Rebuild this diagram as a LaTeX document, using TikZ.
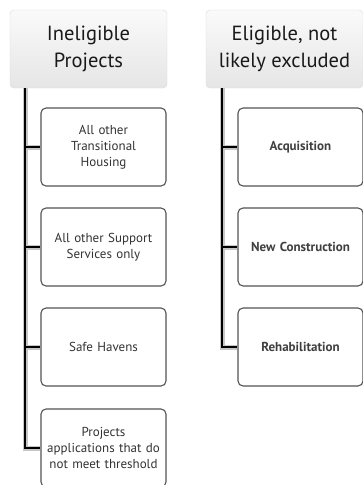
\documentclass[tikz,border=0pt]{standalone}
\usepackage{fontspec}
\setmainfont{PT Sans}
\usepackage{xcolor}
\usepackage{tikz}
\usetikzlibrary {positioning}
\usetikzlibrary{arrows}
\tikzset{trunk/.style = {line width=2.8pt, black},
         trunk shade/.style = {line width=5pt, gray!45}}

\begin{document}
\begin{tikzpicture}[x=1pt,y=-1pt,node distance=100pt,thick,
    head node/.style={rectangle,rounded corners=4pt,draw=gray!30,thin,top color=gray!4,bottom color=gray!20,minimum width=157pt,minimum height=78pt,align=center,font=\fontsize{20.5}{27}\selectfont,text=black!90,inner sep=1pt},
    item node/.style={rectangle,rounded corners=5pt,draw=gray!65!black,line width=1.1pt,fill=white,minimum width=125pt,minimum height=78pt,text width=123pt,align=center,font=\fontsize{13}{16}\selectfont,text=black!80,inner sep=1pt},
    bold node/.style={item node,font=\fontsize{13}{16}\selectfont\bfseries,text=black!75}]
            \useasboundingbox (0,0) rectangle (363,485);

            \node[head node] (inel) at (88.5,49) {Ineligible\\Projects};
            \node[head node] (elig) at (284.5,49) {Eligible, not\\likely excluded};

            \node[item node] (th) at (103.5,147) {All other\\Transitional\\Housing};
            \node[item node] (ss) [below of=th] {All other Support\\Services only};
            \node[item node] (sh) [below of=ss] {Safe Havens};
            \node[item node] (pa) [below of=sh, yshift=-1pt] {Projects\\applications that do\\not meet threshold};

            \node[bold node] (acq) at (300.5,147) {Acquisition};
            \node[bold node] (nc) [below of=acq] {New Construction};
            \node[bold node] (reh) [below of=nc] {Rehabilitation};

            % trunks
            \coordinate (ltop) at (25,88);
            \coordinate (rtop) at (222,88);
            \foreach \st in {trunk shade, trunk} {
                \draw[\st] (ltop) |- (pa.west);
                \draw[\st] (ltop |- th.west) -- (th.west);
                \draw[\st] (ltop |- ss.west) -- (ss.west);
                \draw[\st] (ltop |- sh.west) -- (sh.west);

                \draw[\st] (rtop) |- (reh.west);
                \draw[\st] (rtop |- acq.west) -- (acq.west);
                \draw[\st] (rtop |- nc.west) -- (nc.west);
            }
        \end{tikzpicture}
\end{document}
